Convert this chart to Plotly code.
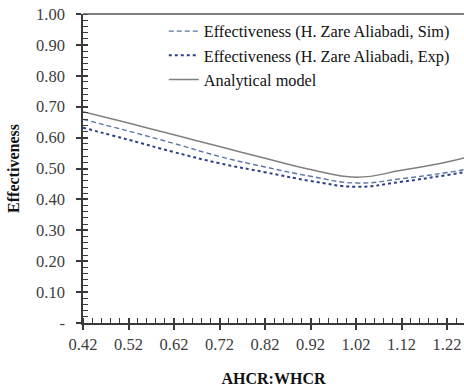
import plotly.graph_objects as go

x_vals = [0.42, 0.52, 0.62, 0.72, 0.82, 0.92, 1.02, 1.12, 1.22, 1.26]
sim_vals = [0.659, 0.621, 0.581, 0.539, 0.505, 0.475, 0.453, 0.467, 0.487, 0.497]
exp_vals = [0.632, 0.593, 0.553, 0.517, 0.488, 0.460, 0.441, 0.457, 0.479, 0.489]
ana_vals = [0.684, 0.647, 0.609, 0.571, 0.533, 0.497, 0.472, 0.494, 0.521, 0.535]

names = ["Effectiveness (H. Zare Aliabadi, Sim)",
         "Effectiveness (H. Zare Aliabadi, Exp)",
         "Analytical model"]
y_ticks = [0, 0.1, 0.2, 0.3, 0.4, 0.5, 0.6, 0.7, 0.8, 0.9, 1.0]
y_labels = ["-", "0.10", "0.20", "0.30", "0.40", "0.50", "0.60", "0.70", "0.80", "0.90", "1.00"]
x_ticks = [0.42, 0.52, 0.62, 0.72, 0.82, 0.92, 1.02, 1.12, 1.22]
x_labels = ["0.42", "0.52", "0.62", "0.72", "0.82", "0.92", "1.02", "1.12", "1.22"]

FONT = "Liberation Serif"
AXC = "#3a3a3a"

fig = go.Figure()
fig.add_trace(go.Scatter(x=x_vals, y=sim_vals, name=names[0], mode="lines",
                         line=dict(color="#5a76a6", width=1.4, dash="5px,3px", shape="spline", smoothing=1.3)))
fig.add_trace(go.Scatter(x=x_vals, y=exp_vals, name=names[1], mode="lines",
                         line=dict(color="#2c3f8a", width=2, dash="dot", shape="spline", smoothing=1.3)))
fig.add_trace(go.Scatter(x=x_vals, y=ana_vals, name=names[2], mode="lines",
                         line=dict(color="#808080", width=1.5, shape="spline", smoothing=1.3)))

xr = [0.42, 0.42 + 381 / 455]
yr = [0, 1.0]

fig.update_layout(
    width=464, height=387,
    margin=dict(l=83, r=0, t=14, b=62),
    paper_bgcolor="white", plot_bgcolor="white",
    font=dict(family=FONT, size=16, color="#333333"),
    showlegend=True,
    legend=dict(x=0.212, y=1.0, xanchor="left", yanchor="top",
                bgcolor="rgba(0,0,0,0)", font=dict(family=FONT, size=16.3, color="#111111"),
                tracegroupgap=0, itemwidth=30),
    xaxis=dict(range=xr, tickvals=x_ticks, ticktext=x_labels,
               showgrid=False, zeroline=False, showline=True, linecolor=AXC, linewidth=1.5,
               ticks="outside", ticklen=5, tickcolor=AXC, tickwidth=1.5,
               minor=dict(dtick=0.02, tick0=0.42, ticks="inside", ticklen=5, tickcolor=AXC, tickwidth=1),
               title=dict(text="<b>AHCR:WHCR</b>", font=dict(family=FONT, size=16, color="#111111"), standoff=22),
               tickfont=dict(family=FONT, size=16.5, color="#3d3d3d")),
    yaxis=dict(range=yr, tickvals=y_ticks, ticktext=y_labels,
               showgrid=False, zeroline=False, showline=True, linecolor=AXC, linewidth=1.5,
               ticks="outside", ticklen=5, tickcolor=AXC, tickwidth=1.5,
               minor=dict(dtick=0.02, tick0=0, ticks="inside", ticklen=5, tickcolor=AXC, tickwidth=1),
               title=dict(text="<b>Effectiveness</b>", font=dict(family=FONT, size=16, color="#111111"), standoff=12),
               tickfont=dict(family=FONT, size=16.5, color="#3d3d3d"), ticklabelstandoff=8),
    xaxis2=dict(range=xr, overlaying="x", anchor="y", side="bottom", tickvals=x_ticks,
                showticklabels=False, showgrid=False, zeroline=False, showline=False,
                ticks="inside", ticklen=5, tickcolor=AXC, tickwidth=1.5),
    yaxis2=dict(range=yr, overlaying="y", anchor="x", side="left", tickvals=y_ticks,
                showticklabels=False, showgrid=False, zeroline=False, showline=False,
                ticks="inside", ticklen=5, tickcolor=AXC, tickwidth=1.5),
    shapes=[dict(type="line", xref="paper", yref="paper", x0=0, x1=1, y0=1, y1=1,
                 line=dict(color="#555555", width=1.5))],
)
# invisible trace to activate overlay axes
fig.add_trace(go.Scatter(x=[xr[0]], y=[yr[0]], xaxis="x2", yaxis="y2", mode="markers",
                         marker=dict(opacity=0), showlegend=False, hoverinfo="skip"))

fig.write_html("out.html")
